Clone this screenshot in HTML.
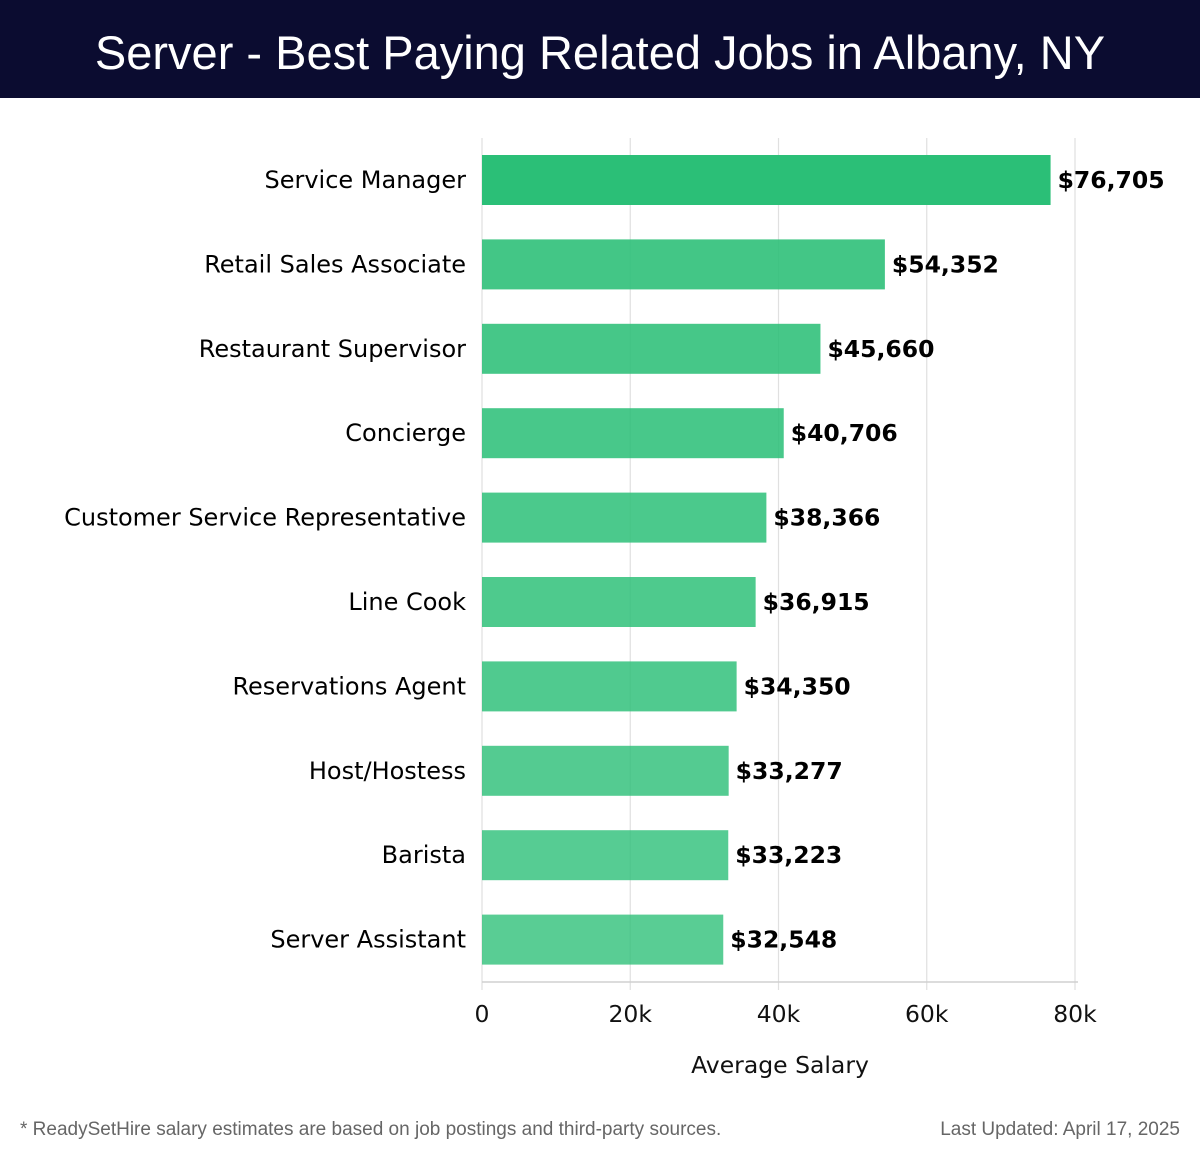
<!DOCTYPE html>
<html><head><meta charset="utf-8">
<style>
body{margin:0;width:1200px;height:1158px;background:#fff;overflow:hidden;font-family:"DejaVu Sans","Liberation Sans",sans-serif;}
#hdr{position:absolute;left:0;top:0;width:1200px;height:98px;background:#0b0c30;color:#fff;text-align:center;font:47px/106px "Liberation Sans",sans-serif;}
.foot{position:absolute;top:1119px;font:19px "Liberation Sans",sans-serif;color:#666;}
</style></head><body>
<div id="hdr">Server - Best Paying Related Jobs in Albany, NY</div>
<svg id="chart" width="1200" height="1100" style="position:absolute;left:0;top:0"></svg>
<div class="foot" style="left:20px">* ReadySetHire salary estimates are based on job postings and third-party sources.</div>
<div class="foot" style="right:20px">Last Updated: April 17, 2025</div>
<script>
const categories=["Service Manager","Retail Sales Associate","Restaurant Supervisor","Concierge","Customer Service Representative","Line Cook","Reservations Agent","Host/Hostess","Barista","Server Assistant"];
const salaries=[76705,54352,45660,40706,38366,36915,34350,33277,33223,32548];
const tickValues=[0,20000,40000,60000,80000];
const tickLabels=["0","20k","40k","60k","80k"];

const svg=document.getElementById('chart');
const NS='http://www.w3.org/2000/svg';
const X0=482,X1=1075,XMAX=80000,PTOP=138,PBOTTOM=982;
const xs=v=>X0+(v/XMAX)*(X1-X0);
const STEP=84.4,FIRSTC=180,BH=50;
const yc=i=>FIRSTC+i*STEP;
function mk(t,a){const e=document.createElementNS(NS,t);for(const k in a)e.setAttribute(k,a[k]);svg.appendChild(e);return e;}
tickValues.forEach((v,i)=>{
  const g=mk('line',{x1:xs(v),x2:xs(v),y1:PTOP,y2:990,stroke:'#e0e0e0','stroke-width':1.2});
  
  
  const t=mk('text',{x:xs(v),y:1022,'text-anchor':'middle','font-size':23.5,fill:'#111'});
  t.textContent=tickLabels[i];
  
  
});
const ax=mk('line',{x1:X0,x2:1078,y1:PBOTTOM,y2:PBOTTOM,stroke:'#d0d0d0','stroke-width':1.5});


categories.forEach((c,i)=>{
  const op=i===0?1:0.9-i*0.013;
  const r=mk('rect',{x:X0,y:yc(i)-BH/2,width:xs(salaries[i])-X0,height:BH,fill:'#2bbf77','fill-opacity':op});
  
  
  const l=mk('text',{x:466,y:yc(i)+8,'text-anchor':'end','font-size':24,fill:'#000'});
  l.textContent=c;
  
  
  const v=mk('text',{x:xs(salaries[i])+7,y:yc(i)+8,'font-size':23.5,'font-weight':'bold',fill:'#000'});
  v.textContent='$'+salaries[i].toLocaleString('en-US');
  
  
});
const at=mk('text',{x:780,y:1073,'text-anchor':'middle','font-size':23.5,fill:'#111'});
at.textContent='Average Salary';


</script>
</body></html>
